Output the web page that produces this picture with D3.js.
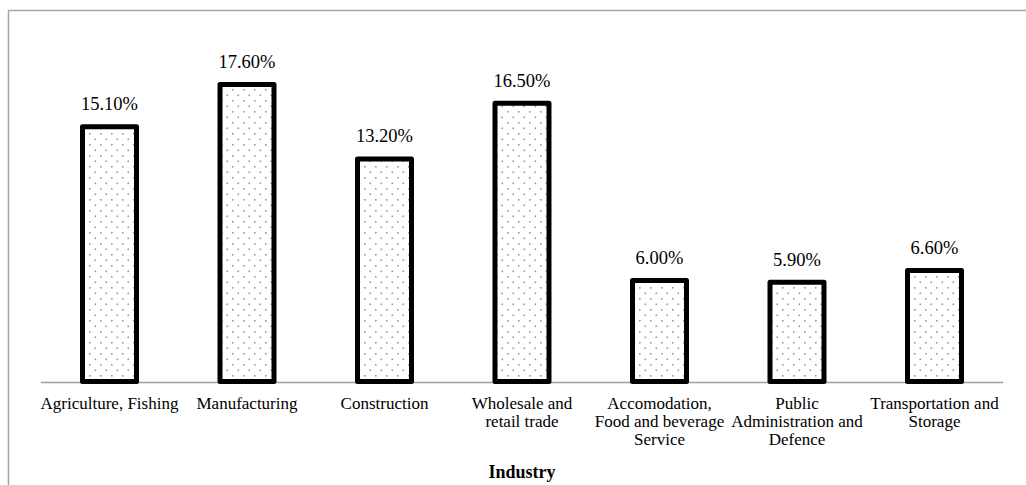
<!DOCTYPE html>
<html>
<head>
<meta charset="utf-8">
<script src="https://cdn.jsdelivr.net/npm/d3@7"></script>
<style>
  html, body { margin: 0; padding: 0; background: #fff; }
  svg { display: block; }
  text { font-family: "Liberation Serif", "Times New Roman", serif; fill: #000; }
</style>
</head>
<body>
<svg id="chart" width="1026" height="485"></svg>
<script>
// Employment share by industry (%)
const categories = [
  "Agriculture, Fishing",
  "Manufacturing",
  "Construction",
  "Wholesale and retail trade",
  "Accomodation, Food and beverage Service",
  "Public Administration and Defence",
  "Transportation and Storage"
];
const categoryLines = [
  ["Agriculture, Fishing"],
  ["Manufacturing"],
  ["Construction"],
  ["Wholesale and", "retail trade"],
  ["Accomodation,", "Food and beverage", "Service"],
  ["Public", "Administration and", "Defence"],
  ["Transportation and", "Storage"]
];
const values = [15.1, 17.6, 13.2, 16.5, 6.0, 5.9, 6.6];
const axisTitle = "Industry";

const W = 1026, H = 485;
const plot = { left: 40.75, right: 1003.25, top: 44, bottom: 382 };

const svg = d3.select("#chart");

// dotted fill for the bars
const defs = svg.append("defs");
const pat = defs.append("pattern")
  .attr("id", "dots")
  .attr("patternUnits", "userSpaceOnUse")
  .attr("width", 11).attr("height", 11);
pat.append("rect").attr("width", 11).attr("height", 11).attr("fill", "#fff");
pat.append("rect").attr("x", 1).attr("y", 1).attr("width", 1.6).attr("height", 1.6).attr("fill", "#9a9a9a");
pat.append("rect").attr("x", 6.5).attr("y", 6.5).attr("width", 1.6).attr("height", 1.6).attr("fill", "#9a9a9a");

// outer frame (top and left edges)
svg.append("path")
  .attr("d", `M8.5,${H} L8.5,10.5 L${W},10.5`)
  .attr("fill", "none")
  .attr("stroke", "#a6a6a6")
  .attr("stroke-width", 1.5);

const x = d3.scaleBand()
  .domain(categories)
  .range([plot.left, plot.right])
  .paddingInner(0.607)
  .paddingOuter(0.3035);

const y = d3.scaleLinear()
  .domain([0, 20])
  .range([plot.bottom, plot.top]);

// category axis line
svg.append("line")
  .attr("x1", plot.left).attr("x2", plot.right)
  .attr("y1", y(0) + 0.5).attr("y2", y(0) + 0.5)
  .attr("stroke", "#a0a0a0")
  .attr("stroke-width", 1.6);

const barW = 54;
const data = categories.map((c, i) => ({ c, v: values[i], lines: categoryLines[i] }));

svg.append("g").selectAll("rect")
  .data(data)
  .join("rect")
  .attr("x", d => x(d.c) + x.bandwidth() / 2 - barW / 2)
  .attr("y", d => y(d.v))
  .attr("width", barW)
  .attr("height", d => y(0) - 0.5 - y(d.v))
  .attr("fill", "url(#dots)")
  .attr("stroke", "#000")
  .attr("stroke-width", 5)
  .attr("stroke-linejoin", "round");

// value labels
svg.append("g").selectAll("text")
  .data(data)
  .join("text")
  .attr("x", d => x(d.c) + x.bandwidth() / 2)
  .attr("y", d => y(d.v) - 16.5)
  .attr("text-anchor", "middle")
  .style("font-size", "18.5px")
  .text(d => d.v.toFixed(2) + "%");

// category labels
const cat = svg.append("g").selectAll("text")
  .data(data)
  .join("text")
  .attr("x", d => x(d.c) + x.bandwidth() / 2)
  .attr("y", 409)
  .attr("text-anchor", "middle")
  .style("font-size", "17px");
cat.selectAll("tspan")
  .data(d => d.lines.map(l => ({ l, cx: x(d.c) + x.bandwidth() / 2 })))
  .join("tspan")
  .attr("x", d => d.cx)
  .attr("dy", (d, i) => i === 0 ? 0 : 18)
  .text(d => d.l);

// axis title
svg.append("text")
  .attr("x", (plot.left + plot.right) / 2)
  .attr("y", 478)
  .attr("text-anchor", "middle")
  .style("font-size", "18px")
  .style("font-weight", "bold")
  .text(axisTitle);
</script>
</body>
</html>
